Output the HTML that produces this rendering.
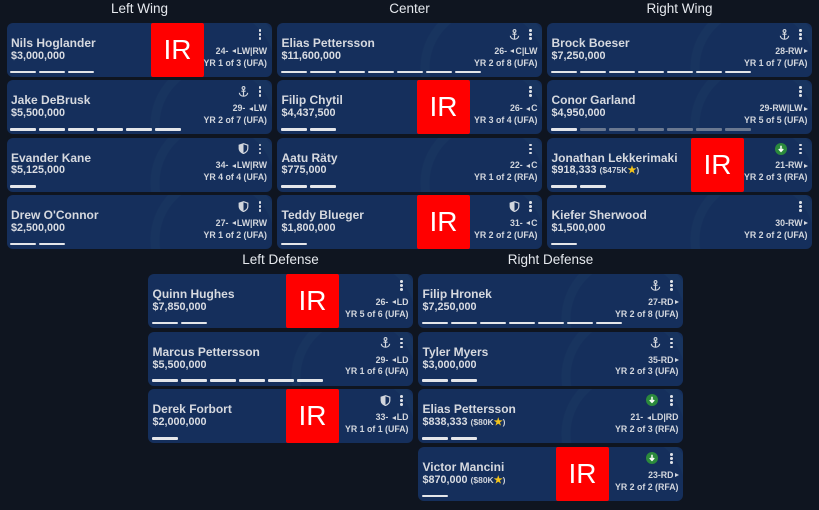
<!DOCTYPE html>
<html><head><meta charset="utf-8"><style>
*{margin:0;padding:0;box-sizing:border-box}
html,body{width:819px;height:510px;background:#0f1520;overflow:hidden;font-family:"Liberation Sans",Arial,sans-serif}
.h{position:absolute;width:265px;text-align:center;color:#e6e9ee;font-size:13.5px;line-height:13.5px;white-space:nowrap}
.card{position:absolute;width:265px;height:54px;border-radius:6px;overflow:hidden;
background:radial-gradient(circle at 210px 45px,rgba(0,0,0,0) 57px,#18345f 58px,#18345f 66px,rgba(0,0,0,0) 67px),#152f5c}
.nm{position:absolute;left:4.5px;top:14.1px;font-size:12px;line-height:12px;font-weight:bold;color:#d6d9df;white-space:nowrap}
.sal{position:absolute;left:4.5px;top:27.9px;font-size:10.8px;line-height:10.8px;font-weight:bold;color:#d9dce2;white-space:nowrap}
.sal small{font-size:8.5px;font-weight:bold;color:#cfd3da}
.sal .st{color:#f2c31b;font-size:10px}
.bars{position:absolute;left:3.5px;top:47.8px;height:3px;display:flex}
.bars i{display:block;width:26px;height:2.7px;background:#e4e6ea;margin-right:3px;border-radius:1px}
.bars i.g{background:#6a7890}
.ir{position:absolute;top:0;width:53px;height:54px;background:#ff0000;color:#fff;font-size:28px;line-height:54px;text-align:center;border-radius:2px}
.dots{position:absolute;right:10.2px;top:6px;width:2.8px;height:12px}
.dots b{display:block;width:2.8px;height:2.8px;border-radius:50%;background:#dfe2e7;margin-bottom:1.2px}
.ic{position:absolute;top:5.5px;right:22.5px;display:block}
.age{position:absolute;right:4.5px;top:23.9px;font-size:8.8px;line-height:8.8px;font-weight:bold;color:#d2d6dd;white-space:nowrap}
.yr{position:absolute;right:4.5px;top:35.5px;font-size:8.8px;line-height:8.8px;font-weight:bold;color:#d2d6dd;white-space:nowrap}
.tl{display:inline-block;width:0;height:0;border-top:2.5px solid transparent;border-bottom:2.5px solid transparent;border-right:4px solid #d2d6dd;margin:0 1px 0 1px;vertical-align:0.5px}
.tr{display:inline-block;width:0;height:0;border-top:2.5px solid transparent;border-bottom:2.5px solid transparent;border-left:4px solid #d2d6dd;margin-left:1px;vertical-align:0.5px}
</style></head><body>

<svg width="0" height="0" style="position:absolute;left:0;top:0">
<defs>
<symbol id="anc" viewBox="0 0 11 11">
<circle cx="5.5" cy="2" r="1.4" fill="none" stroke="#d2d6dd" stroke-width="1.1"/>
<path d="M5.5 3.4V10.2M3.4 5.2h4.2M1.3 6.8c0.3 2.2 2.2 3.4 4.2 3.4s3.9-1.2 4.2-3.4" fill="none" stroke="#d2d6dd" stroke-width="1.2"/>
</symbol>
<symbol id="shd" viewBox="0 0 11 11">
<path d="M5.5 0.7L9.8 2.2v3.3c0 2.6-2.1 4.1-4.3 5c-2.2-0.9-4.3-2.4-4.3-5V2.2z" fill="none" stroke="#d2d6dd" stroke-width="1.2"/>
<path d="M5.5 0.7L1.2 2.2v3.3c0 2.6 2.1 4.1 4.3 5z" fill="#d2d6dd"/>
</symbol>
<symbol id="grn" viewBox="0 0 12 12">
<circle cx="6" cy="6" r="6" fill="#2b8a3c"/>
<path d="M6 2.8v5.2M3.8 6l2.2 2.3 2.2-2.3" stroke="#ffffff" stroke-width="1.5" fill="none"/>
</symbol>
</defs>
</svg>

<div class="h" style="left:7px;top:2.1px">Left Wing</div>
<div class="h" style="left:277px;top:2.1px">Center</div>
<div class="h" style="left:547px;top:2.1px">Right Wing</div>
<div class="h" style="left:148px;top:252.9px">Left Defense</div>
<div class="h" style="left:418px;top:252.9px">Right Defense</div>

<!-- LEFT WING -->
<div class="card" style="left:6.5px;top:23px">
<div class="nm">Nils Hoglander</div><div class="sal">$3,000,000</div>
<div class="bars"><i></i><i></i><i></i></div>
<div class="ir" style="left:144.5px">IR</div>
<div class="dots"><b></b><b></b><b></b></div>
<div class="age">24- <span class="tl"></span>LW|RW</div><div class="yr">YR 1 of 3 (UFA)</div>
</div>
<div class="card" style="left:6.5px;top:80.3px">
<div class="nm">Jake DeBrusk</div><div class="sal">$5,500,000</div>
<div class="bars"><i></i><i></i><i></i><i></i><i></i><i></i></div>
<svg class="ic" width="11" height="11"><use href="#anc"/></svg>
<div class="dots"><b></b><b></b><b></b></div>
<div class="age">29- <span class="tl"></span>LW</div><div class="yr">YR 2 of 7 (UFA)</div>
</div>
<div class="card" style="left:6.5px;top:137.6px">
<div class="nm">Evander Kane</div><div class="sal">$5,125,000</div>
<div class="bars"><i></i></div>
<svg class="ic" width="11" height="11"><use href="#shd"/></svg>
<div class="dots"><b></b><b></b><b></b></div>
<div class="age">34- <span class="tl"></span>LW|RW</div><div class="yr">YR 4 of 4 (UFA)</div>
</div>
<div class="card" style="left:6.5px;top:195px">
<div class="nm">Drew O'Connor</div><div class="sal">$2,500,000</div>
<div class="bars"><i></i><i></i></div>
<svg class="ic" width="11" height="11"><use href="#shd"/></svg>
<div class="dots"><b></b><b></b><b></b></div>
<div class="age">27- <span class="tl"></span>LW|RW</div><div class="yr">YR 1 of 2 (UFA)</div>
</div>

<!-- CENTER -->
<div class="card" style="left:277px;top:23px">
<div class="nm">Elias Pettersson</div><div class="sal">$11,600,000</div>
<div class="bars"><i></i><i></i><i></i><i></i><i></i><i></i><i></i></div>
<svg class="ic" width="11" height="11"><use href="#anc"/></svg>
<div class="dots"><b></b><b></b><b></b></div>
<div class="age">26- <span class="tl"></span>C|LW</div><div class="yr">YR 2 of 8 (UFA)</div>
</div>
<div class="card" style="left:277px;top:80.3px">
<div class="nm">Filip Chytil</div><div class="sal">$4,437,500</div>
<div class="bars"><i></i><i></i></div>
<div class="ir" style="left:140px">IR</div>
<div class="dots"><b></b><b></b><b></b></div>
<div class="age">26- <span class="tl"></span>C</div><div class="yr">YR 3 of 4 (UFA)</div>
</div>
<div class="card" style="left:277px;top:137.6px">
<div class="nm">Aatu Räty</div><div class="sal">$775,000</div>
<div class="bars"><i></i><i></i></div>
<div class="dots"><b></b><b></b><b></b></div>
<div class="age">22- <span class="tl"></span>C</div><div class="yr">YR 1 of 2 (RFA)</div>
</div>
<div class="card" style="left:277px;top:195px">
<div class="nm">Teddy Blueger</div><div class="sal">$1,800,000</div>
<div class="bars"><i></i></div>
<div class="ir" style="left:140px">IR</div>
<svg class="ic" width="11" height="11"><use href="#shd"/></svg>
<div class="dots"><b></b><b></b><b></b></div>
<div class="age">31- <span class="tl"></span>C</div><div class="yr">YR 2 of 2 (UFA)</div>
</div>

<!-- RIGHT WING -->
<div class="card" style="left:547px;top:23px">
<div class="nm">Brock Boeser</div><div class="sal">$7,250,000</div>
<div class="bars"><i></i><i></i><i></i><i></i><i></i><i></i><i></i></div>
<svg class="ic" width="11" height="11"><use href="#anc"/></svg>
<div class="dots"><b></b><b></b><b></b></div>
<div class="age">28-RW<span class="tr"></span></div><div class="yr">YR 1 of 7 (UFA)</div>
</div>
<div class="card" style="left:547px;top:80.3px">
<div class="nm">Conor Garland</div><div class="sal">$4,950,000</div>
<div class="bars"><i></i><i class="g"></i><i class="g"></i><i class="g"></i><i class="g"></i><i class="g"></i><i class="g"></i></div>
<div class="dots"><b></b><b></b><b></b></div>
<div class="age">29-RW|LW<span class="tr"></span></div><div class="yr">YR 5 of 5 (UFA)</div>
</div>
<div class="card" style="left:547px;top:137.6px">
<div class="nm">Jonathan Lekkerimaki</div><div class="sal">$918,333 <small>($475K<span class="st">★</span>)</small></div>
<div class="bars"><i></i><i></i></div>
<div class="ir" style="left:144px">IR</div>
<svg class="ic" width="12" height="12" style="right:25px;top:5px"><use href="#grn"/></svg>
<div class="dots"><b></b><b></b><b></b></div>
<div class="age">21-RW<span class="tr"></span></div><div class="yr">YR 2 of 3 (RFA)</div>
</div>
<div class="card" style="left:547px;top:195px">
<div class="nm">Kiefer Sherwood</div><div class="sal">$1,500,000</div>
<div class="bars"><i></i></div>
<div class="dots"><b></b><b></b><b></b></div>
<div class="age">30-RW<span class="tr"></span></div><div class="yr">YR 2 of 2 (UFA)</div>
</div>

<!-- LEFT DEFENSE -->
<div class="card" style="left:148px;top:274px">
<div class="nm">Quinn Hughes</div><div class="sal">$7,850,000</div>
<div class="bars"><i></i><i></i></div>
<div class="ir" style="left:138px">IR</div>
<div class="dots"><b></b><b></b><b></b></div>
<div class="age">26- <span class="tl"></span>LD</div><div class="yr">YR 5 of 6 (UFA)</div>
</div>
<div class="card" style="left:148px;top:331.7px">
<div class="nm">Marcus Pettersson</div><div class="sal">$5,500,000</div>
<div class="bars"><i></i><i></i><i></i><i></i><i></i><i></i></div>
<svg class="ic" width="11" height="11"><use href="#anc"/></svg>
<div class="dots"><b></b><b></b><b></b></div>
<div class="age">29- <span class="tl"></span>LD</div><div class="yr">YR 1 of 6 (UFA)</div>
</div>
<div class="card" style="left:148px;top:389.3px">
<div class="nm">Derek Forbort</div><div class="sal">$2,000,000</div>
<div class="bars"><i></i></div>
<div class="ir" style="left:138px">IR</div>
<svg class="ic" width="11" height="11"><use href="#shd"/></svg>
<div class="dots"><b></b><b></b><b></b></div>
<div class="age">33- <span class="tl"></span>LD</div><div class="yr">YR 1 of 1 (UFA)</div>
</div>

<!-- RIGHT DEFENSE -->
<div class="card" style="left:418px;top:274px">
<div class="nm">Filip Hronek</div><div class="sal">$7,250,000</div>
<div class="bars"><i></i><i></i><i></i><i></i><i></i><i></i><i></i></div>
<svg class="ic" width="11" height="11"><use href="#anc"/></svg>
<div class="dots"><b></b><b></b><b></b></div>
<div class="age">27-RD<span class="tr"></span></div><div class="yr">YR 2 of 8 (UFA)</div>
</div>
<div class="card" style="left:418px;top:331.7px">
<div class="nm">Tyler Myers</div><div class="sal">$3,000,000</div>
<div class="bars"><i></i><i></i></div>
<svg class="ic" width="11" height="11"><use href="#anc"/></svg>
<div class="dots"><b></b><b></b><b></b></div>
<div class="age">35-RD<span class="tr"></span></div><div class="yr">YR 2 of 3 (UFA)</div>
</div>
<div class="card" style="left:418px;top:389.3px">
<div class="nm">Elias Pettersson</div><div class="sal">$838,333 <small>($80K<span class="st">★</span>)</small></div>
<div class="bars"><i></i><i></i></div>
<svg class="ic" width="12" height="12" style="right:25px;top:5px"><use href="#grn"/></svg>
<div class="dots"><b></b><b></b><b></b></div>
<div class="age">21- <span class="tl"></span>LD|RD</div><div class="yr">YR 2 of 3 (RFA)</div>
</div>
<div class="card" style="left:418px;top:447px">
<div class="nm">Victor Mancini</div><div class="sal">$870,000 <small>($80K<span class="st">★</span>)</small></div>
<div class="bars"><i></i></div>
<div class="ir" style="left:138px">IR</div>
<svg class="ic" width="12" height="12" style="right:25px;top:5px"><use href="#grn"/></svg>
<div class="dots"><b></b><b></b><b></b></div>
<div class="age">23-RD<span class="tr"></span></div><div class="yr">YR 2 of 2 (RFA)</div>
</div>

</body></html>
